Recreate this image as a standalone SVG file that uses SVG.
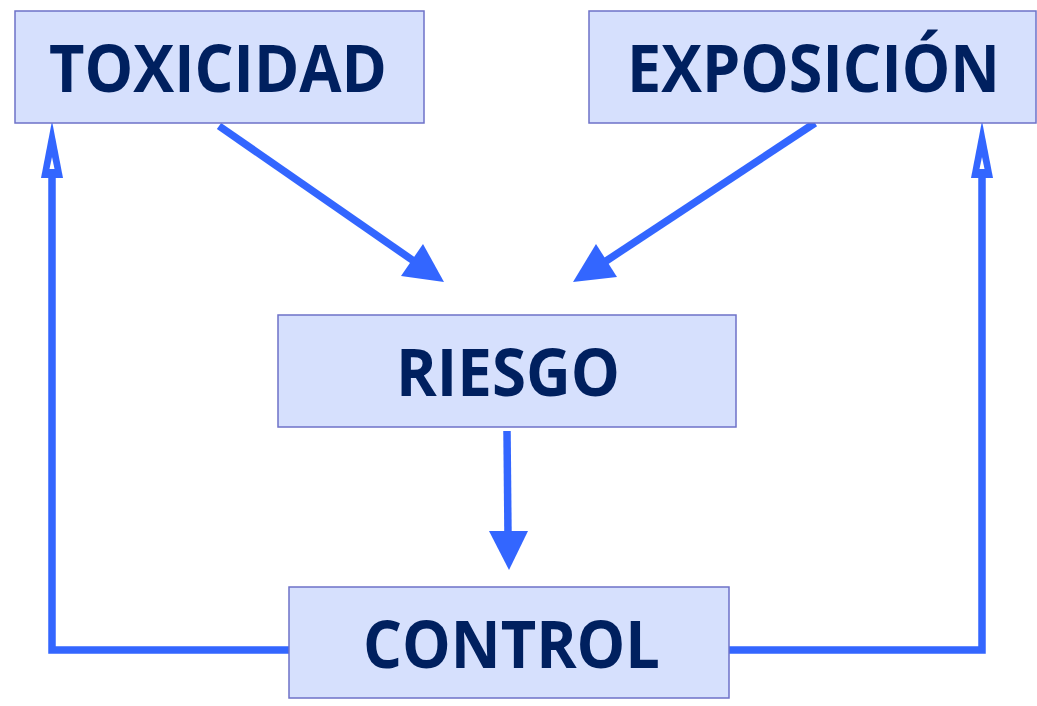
<svg xmlns="http://www.w3.org/2000/svg" width="1037" height="706" viewBox="0 0 1037 706">
  <style>
    .box { fill: #d6e0fd; stroke: #6e72c8; stroke-width: 1.5; }
    .label { font-family: "Open Sans", "Noto Sans", "Liberation Sans", sans-serif; font-weight: 700; font-size: 67px; fill: #00205f; }
    .wire { fill: none; stroke: #3366ff; stroke-width: 7.5; }
    .head { fill: #3366ff; stroke: none; }
    .notch { fill: #ffffff; stroke: none; }
  </style>
  <rect width="1037" height="706" fill="#ffffff"/>

  <g id="connectors">
    <!-- TOXICIDAD to RIESGO -->
    <line class="wire" x1="219" y1="126" x2="418" y2="264"/>
    <polygon class="head" points="444,282 401,276 423,244"/>
    <!-- EXPOSICION to RIESGO -->
    <line class="wire" x1="815" y1="123" x2="600" y2="265"/>
    <polygon class="head" points="573,282 596,244 617,277"/>
    <!-- RIESGO to CONTROL -->
    <line class="wire" x1="507" y1="431" x2="508" y2="535"/>
    <polygon class="head" points="509,570 489,531 528,531"/>
    <!-- CONTROL back to TOXICIDAD -->
    <polyline class="wire" points="289,650 52,650 52,176"/>
    <polygon class="head" points="52,121 41,178 63,178"/>
    <polygon class="notch" points="52,157 49.5,169 54.5,169"/>
    <!-- CONTROL back to EXPOSICION -->
    <polyline class="wire" points="729,650 982,650 982,176"/>
    <polygon class="head" points="982,121 971,178 993,178"/>
    <polygon class="notch" points="982,157 979.5,169 984.5,169"/>
  </g>

  <g id="toxicidad">
    <rect class="box" x="15" y="11" width="409" height="112"/>
    <text class="label" x="49" y="92" textLength="338" lengthAdjust="spacingAndGlyphs">TOXICIDAD</text>
  </g>
  <g id="exposicion">
    <rect class="box" x="589" y="11" width="447" height="112"/>
    <text class="label" x="627" y="92" textLength="373" lengthAdjust="spacingAndGlyphs">EXPOSICIÓN</text>
  </g>
  <g id="riesgo">
    <rect class="box" x="278" y="315" width="458" height="112"/>
    <text class="label" x="396" y="396" textLength="224" lengthAdjust="spacingAndGlyphs">RIESGO</text>
  </g>
  <g id="control">
    <rect class="box" x="289" y="587" width="440" height="111"/>
    <text class="label" x="363" y="668" textLength="297" lengthAdjust="spacingAndGlyphs">CONTROL</text>
  </g>
</svg>
